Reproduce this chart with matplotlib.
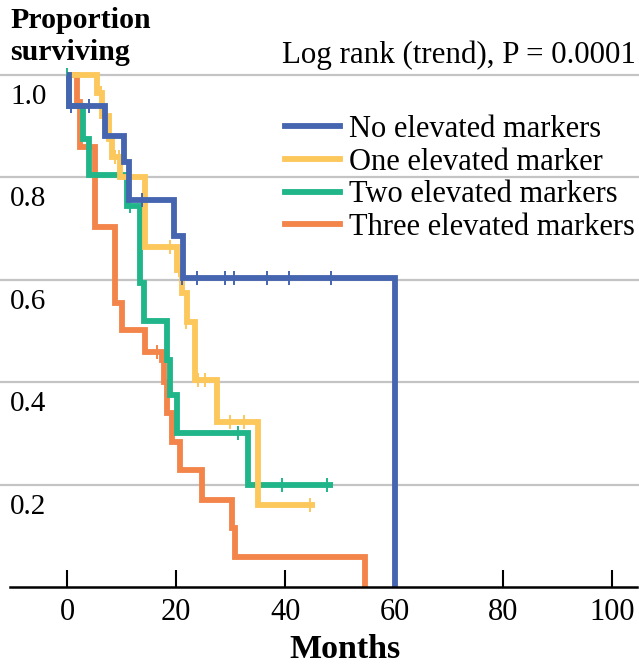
import numpy as np
import matplotlib
matplotlib.use('Agg')
import matplotlib.pyplot as plt
import matplotlib.transforms as mtransforms

plt.rcParams['font.family'] = ['Liberation Serif', 'DejaVu Serif']

# Kaplan-Meier step data: event times and survival after each step
groups = ['No elevated markers', 'One elevated marker',
          'Two elevated markers', 'Three elevated markers']
colors = ['#4565b0', '#fcc75b', '#20b68a', '#f3854a']

blue_t = [0, 0.3, 7.0, 10.5, 11.4, 19.5, 21.2, 60.2]
blue_s = [1.0, 0.94, 0.88, 0.83, 0.755, 0.685, 0.604, 0.0]
blue_end = 60.2
blue_cens_t = [0.6, 3.9, 13.8, 21.0, 23.8, 29.0, 30.5, 36.7, 40.6, 48.4]
blue_cens_s = [0.94, 0.94, 0.755, 0.604, 0.604, 0.604, 0.604, 0.604, 0.604, 0.604]

yel_t = [0, 5.5, 6.4, 7.6, 8.2, 9.7, 14.3, 20.2, 21.1, 22.0, 23.5, 27.5, 34.9]
yel_s = [1.0, 0.965, 0.92, 0.875, 0.84, 0.80, 0.664, 0.62, 0.575, 0.517, 0.404, 0.322, 0.16]
yel_end = 45.5
yel_cens_t = [6.2, 8.8, 9.5, 18.9, 20.5, 21.8, 23.9, 25.3, 29.9, 32.5, 44.5]
yel_cens_s = [0.965, 0.84, 0.84, 0.664, 0.62, 0.517, 0.404, 0.404, 0.322, 0.322, 0.16]

grn_t = [0, 0.4, 2.8, 4.0, 11.0, 13.4, 14.0, 18.3, 18.8, 20.2, 33.2]
grn_s = [1.0, 0.94, 0.875, 0.805, 0.745, 0.594, 0.52, 0.443, 0.375, 0.30, 0.20]
grn_end = 48.7
grn_cens_t = [0.0, 11.5, 31.4, 39.4, 47.7]
grn_cens_s = [1.0, 0.745, 0.30, 0.20, 0.20]

org_t = [0, 1.8, 2.4, 5.1, 8.8, 10.1, 14.3, 17.4, 17.7, 18.3, 19.3, 20.7, 24.8, 30.3, 30.8, 54.7]
org_s = [1.0, 0.947, 0.86, 0.703, 0.555, 0.502, 0.459, 0.443, 0.40, 0.34, 0.283, 0.228, 0.17, 0.115, 0.059, 0.0]
org_end = 54.7
org_cens_t = [16.5]
org_cens_s = [0.459]

xticks = [0, 20, 40, 60, 80, 100]
yticks = [0.2, 0.4, 0.6, 0.8, 1.0]

fig = plt.figure(figsize=(6.39, 6.67), dpi=100)
ax = fig.add_axes([10/639, 80/667, 627/639, (587-54.5)/667])
ax.set_xlim(-10.5, 104.5)
ax.set_ylim(0, 1.04)

for v in yticks:
    ax.axhline(v, xmin=-0.02, xmax=1.01, color='#c4c4c4', lw=1.6, zorder=1, clip_on=False)

series = [
    (org_t, org_s, org_end, org_cens_t, org_cens_s, colors[3]),
    (grn_t, grn_s, grn_end, grn_cens_t, grn_cens_s, colors[2]),
    (yel_t, yel_s, yel_end, yel_cens_t, yel_cens_s, colors[1]),
    (blue_t, blue_s, blue_end, blue_cens_t, blue_cens_s, colors[0]),
]
z = 3
for t, s, end, ct, cs, c in series:
    tt = list(t) + [end]
    ss = list(s) + [s[-1]]
    ax.step(tt, ss, where='post', color=c, lw=4.2, solid_joinstyle='miter',
            solid_capstyle='butt', zorder=z, clip_on=False)
    ax.plot(ct, cs, ls='none', marker='|', ms=10, mew=1.4, color=c, zorder=z + 0.5,
            clip_on=False)
    z += 1

# legend
handles = [plt.Line2D([], [], color=c, lw=4.2) for c in colors]
ax.legend(handles, groups, loc='upper left', bbox_to_anchor=(285/639, 1 - 115/667),
          bbox_transform=fig.transFigure, frameon=False, fontsize=22,
          handlelength=1.8, handletextpad=0.3, labelspacing=0.12, borderpad=0,
          borderaxespad=0)

# axes styling
for sp in ['left', 'right', 'top']:
    ax.spines[sp].set_visible(False)
ax.spines['bottom'].set_linewidth(1.8)
ax.spines['bottom'].set_zorder(10)
ax.set_yticks([])
ax.set_xticks(xticks)
ax.tick_params(axis='x', direction='in', length=12, width=1.5, labelsize=22, pad=8)

trans = mtransforms.blended_transform_factory(ax.transAxes, ax.transData)
for v in yticks:
    ax.text(0.0, v - 0.043, f'{v:.1f}', transform=trans, ha='left', va='center', fontsize=21)

ax.set_xlabel('Months', fontsize=24.5, fontweight='bold')
ax.xaxis.set_label_coords(51, -0.088, transform=mtransforms.blended_transform_factory(ax.transData, ax.transAxes))

fig.text(10/639, 1 - 7/667, 'Proportion\nsurviving', ha='left', va='top', fontsize=21.5,
         fontweight='bold', linespacing=1.25)
fig.text(636/639, 1 - 55/667, 'Log rank (trend), P = 0.0001', ha='right', va='center',
         fontsize=22.3)

fig.savefig('out.png', dpi=100)
